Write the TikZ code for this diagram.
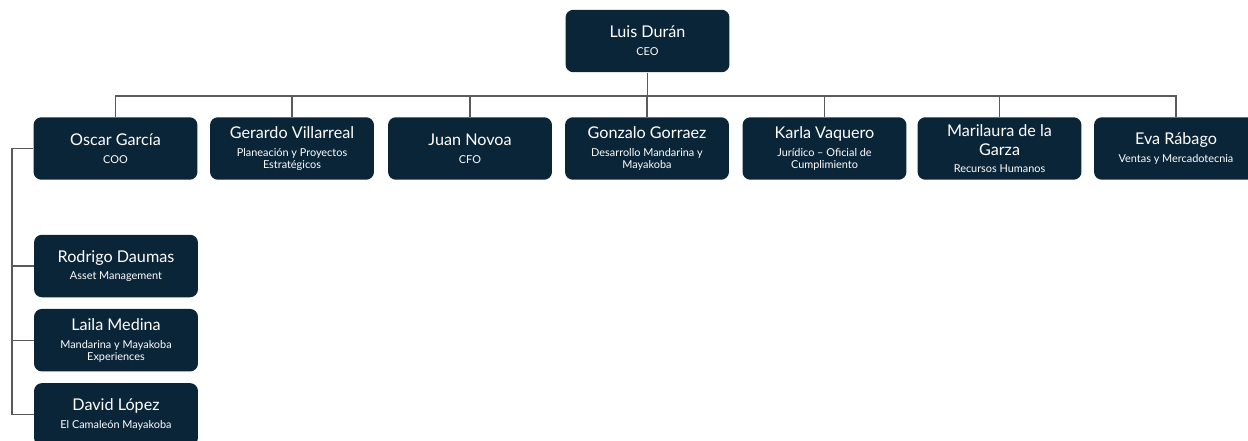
\documentclass[tikz,border=0pt]{standalone}
\usepackage{fontspec}
\setmainfont{Lato}
\usetikzlibrary{positioning}
\definecolor{navy}{HTML}{0B2538}
\definecolor{wire}{HTML}{5A5A5A}
\newcommand{\pname}[1]{{\fontsize{9.2}{10}\selectfont #1}}
\newcommand{\prole}[1]{{\fontsize{6.2}{6.8}\selectfont #1}}

\begin{document}
\begin{tikzpicture}[x=0.02cm,y=-0.02cm,
  person/.style={draw=none,fill=navy,text=white,rounded corners=4.5pt,
    minimum width=3.28cm,minimum height=1.25cm,align=center,inner sep=1pt,
    font=\fontsize{6.2}{6.8}\selectfont},
  link/.style={draw=wire,line width=0.6pt}]
  \useasboundingbox (0,0) rectangle (1248,440);
  \clip (0,0) rectangle (1248,440);
  % top
  \node[person] (ceo) at (647.5,41) {\pname{Luis Durán}\\[3.4pt]\prole{CEO}};
  % direct reports
  \node[person] (coo)    at (115.5,148.5) {\pname{Oscar García}\\[3.4pt]\prole{COO}};
  \node[person] (plan)   at (292,148.5) {\pname{Gerardo Villarreal}\\[3.4pt]\prole{Planeación y Proyectos}\\\prole{Estratégicos}};
  \node[person] (cfo)    at (470,148.5) {\pname{Juan Novoa}\\[3.4pt]\prole{CFO}};
  \node[person] (desa)   at (647,148.5) {\pname{Gonzalo Gorraez}\\[3.4pt]\prole{Desarrollo Mandarina y}\\\prole{Mayakoba}};
  \node[person] (jur)    at (824.5,148.5) {\pname{Karla Vaquero}\\[3.4pt]\prole{Jurídico – Oficial de}\\\prole{Cumplimiento}};
  \node[person] (rh)     at (999.5,148.5) {\pname{Marilaura de la}\\[4pt]\pname{Garza}\\[2.6pt]\prole{Recursos Humanos}};
  \node[person] (ventas) at (1176,148.5) {\pname{Eva Rábago}\\[3.4pt]\prole{Ventas y Mercadotecnia}};
  % under coo
  \node[person] (asset) at (116,266) {\pname{Rodrigo Daumas}\\[3.4pt]\prole{Asset Management}};
  \node[person,below=0.22cm of asset] (exper) {\pname{Laila Medina}\\[3.4pt]\prole{Mandarina y Mayakoba}\\\prole{Experiences}};
  \node[person,below=0.22cm of exper] (cama) {\pname{David López}\\[3.4pt]\prole{El Camaleón Mayakoba}};
  % wires
  \coordinate (bus) at (647.5,96);
  \coordinate (spine) at (12,148.5);
  \draw[link] (ceo.south) -- (bus);
  \foreach \n in {coo,plan,cfo,desa,jur,rh,ventas}
    \draw[link] (bus) -| (\n.north);
  \foreach \n in {asset,exper,cama}
    \draw[link] (coo.west) -- (spine) |- (\n.west);
\end{tikzpicture}
\end{document}
